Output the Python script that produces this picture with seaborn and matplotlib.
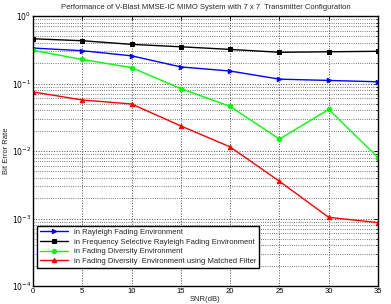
import numpy as np
import pandas as pd
import matplotlib
matplotlib.use("Agg")
import matplotlib.pyplot as plt
import seaborn as sns

# data
snr = [0, 5, 10, 15, 20, 25, 30, 35]
ber_rayleigh = [0.335, 0.306, 0.257, 0.176, 0.153, 0.116, 0.111, 0.106]
ber_freq_sel = [0.46, 0.43, 0.38, 0.35, 0.32, 0.29, 0.295, 0.30]
ber_diversity = [0.31, 0.227, 0.172, 0.084, 0.0458, 0.015, 0.0413, 0.008]
ber_matched = [0.075, 0.057, 0.0497, 0.0235, 0.0115, 0.00356, 0.00104, 0.00087]

labels = [
    "in Rayleigh Fading Environment",
    "in Frequency Selective Rayleigh Fading Environment",
    "in Fading Diversity Environment",
    "in Fading Diversity  Environment using Matched Filter",
]
colors = ["#0000ff", "#000000", "#00ff00", "#ff0000"]
markers = [">", "s", "o", "^"]

df = pd.DataFrame({
    "SNR": snr * 4,
    "BER": ber_rayleigh + ber_freq_sel + ber_diversity + ber_matched,
    "series": sum([[l] * len(snr) for l in labels], []),
})

sns.set_style("white")
plt.rcParams["font.family"] = ["Liberation Sans", "DejaVu Sans"]

fig = plt.figure(figsize=(3.91, 3.04), dpi=100)
ax = fig.add_axes([33 / 391, 18 / 304, 345 / 391, 270 / 304])

for lab, col, mk in zip(labels, colors, markers):
    sub = df[df["series"] == lab]
    sns.lineplot(data=sub, x="SNR", y="BER", ax=ax, color=col, marker=mk,
                 markersize=3.2, linewidth=1.0, label=lab,
                 markeredgecolor=col, markerfacecolor=col)

ax.set_yscale("log")
ax.set_xlim(0, 35)
ax.set_ylim(1e-4, 1)
ax.set_xticks(range(0, 36, 5))
ax.set_yticks([1e-4, 1e-3, 1e-2, 1e-1, 1])
ax.set_yticklabels([r"$10^{-4}$", r"$10^{-3}$", r"$10^{-2}$", r"$10^{-1}$", r"$10^{0}$"])
ax.tick_params(axis="both", which="both", direction="in", labelsize=5.5,
               top=True, right=True, length=3, width=0.6, colors="black", pad=1.5)
ax.tick_params(which="minor", length=1.5)
ax.grid(True, which="major", color="0.3", linestyle=":", linewidth=0.7)
ax.grid(True, which="minor", color="0.3", linestyle=":", linewidth=0.6)
for s in ax.spines.values():
    s.set_color("black")
    s.set_linewidth(1.0)

ax.set_xlabel("SNR(dB)", fontsize=5.5, labelpad=0.5)
ax.set_ylabel("Bit Error Rate", fontsize=5.5, labelpad=1)
ax.set_title("Performance of V-Blast MMSE-IC MIMO System with 7 x 7  Transmitter Configuration",
             fontsize=5.5, pad=5)

leg = ax.legend(loc="lower left", fontsize=5.5, frameon=True, fancybox=False,
                edgecolor="black", framealpha=1, borderpad=0.4, borderaxespad=0,
                handlelength=3.6, labelspacing=0.3, bbox_to_anchor=(0.012, 0.067))
leg.get_frame().set_linewidth(1.0)

fig.savefig("out.png", dpi=100)
